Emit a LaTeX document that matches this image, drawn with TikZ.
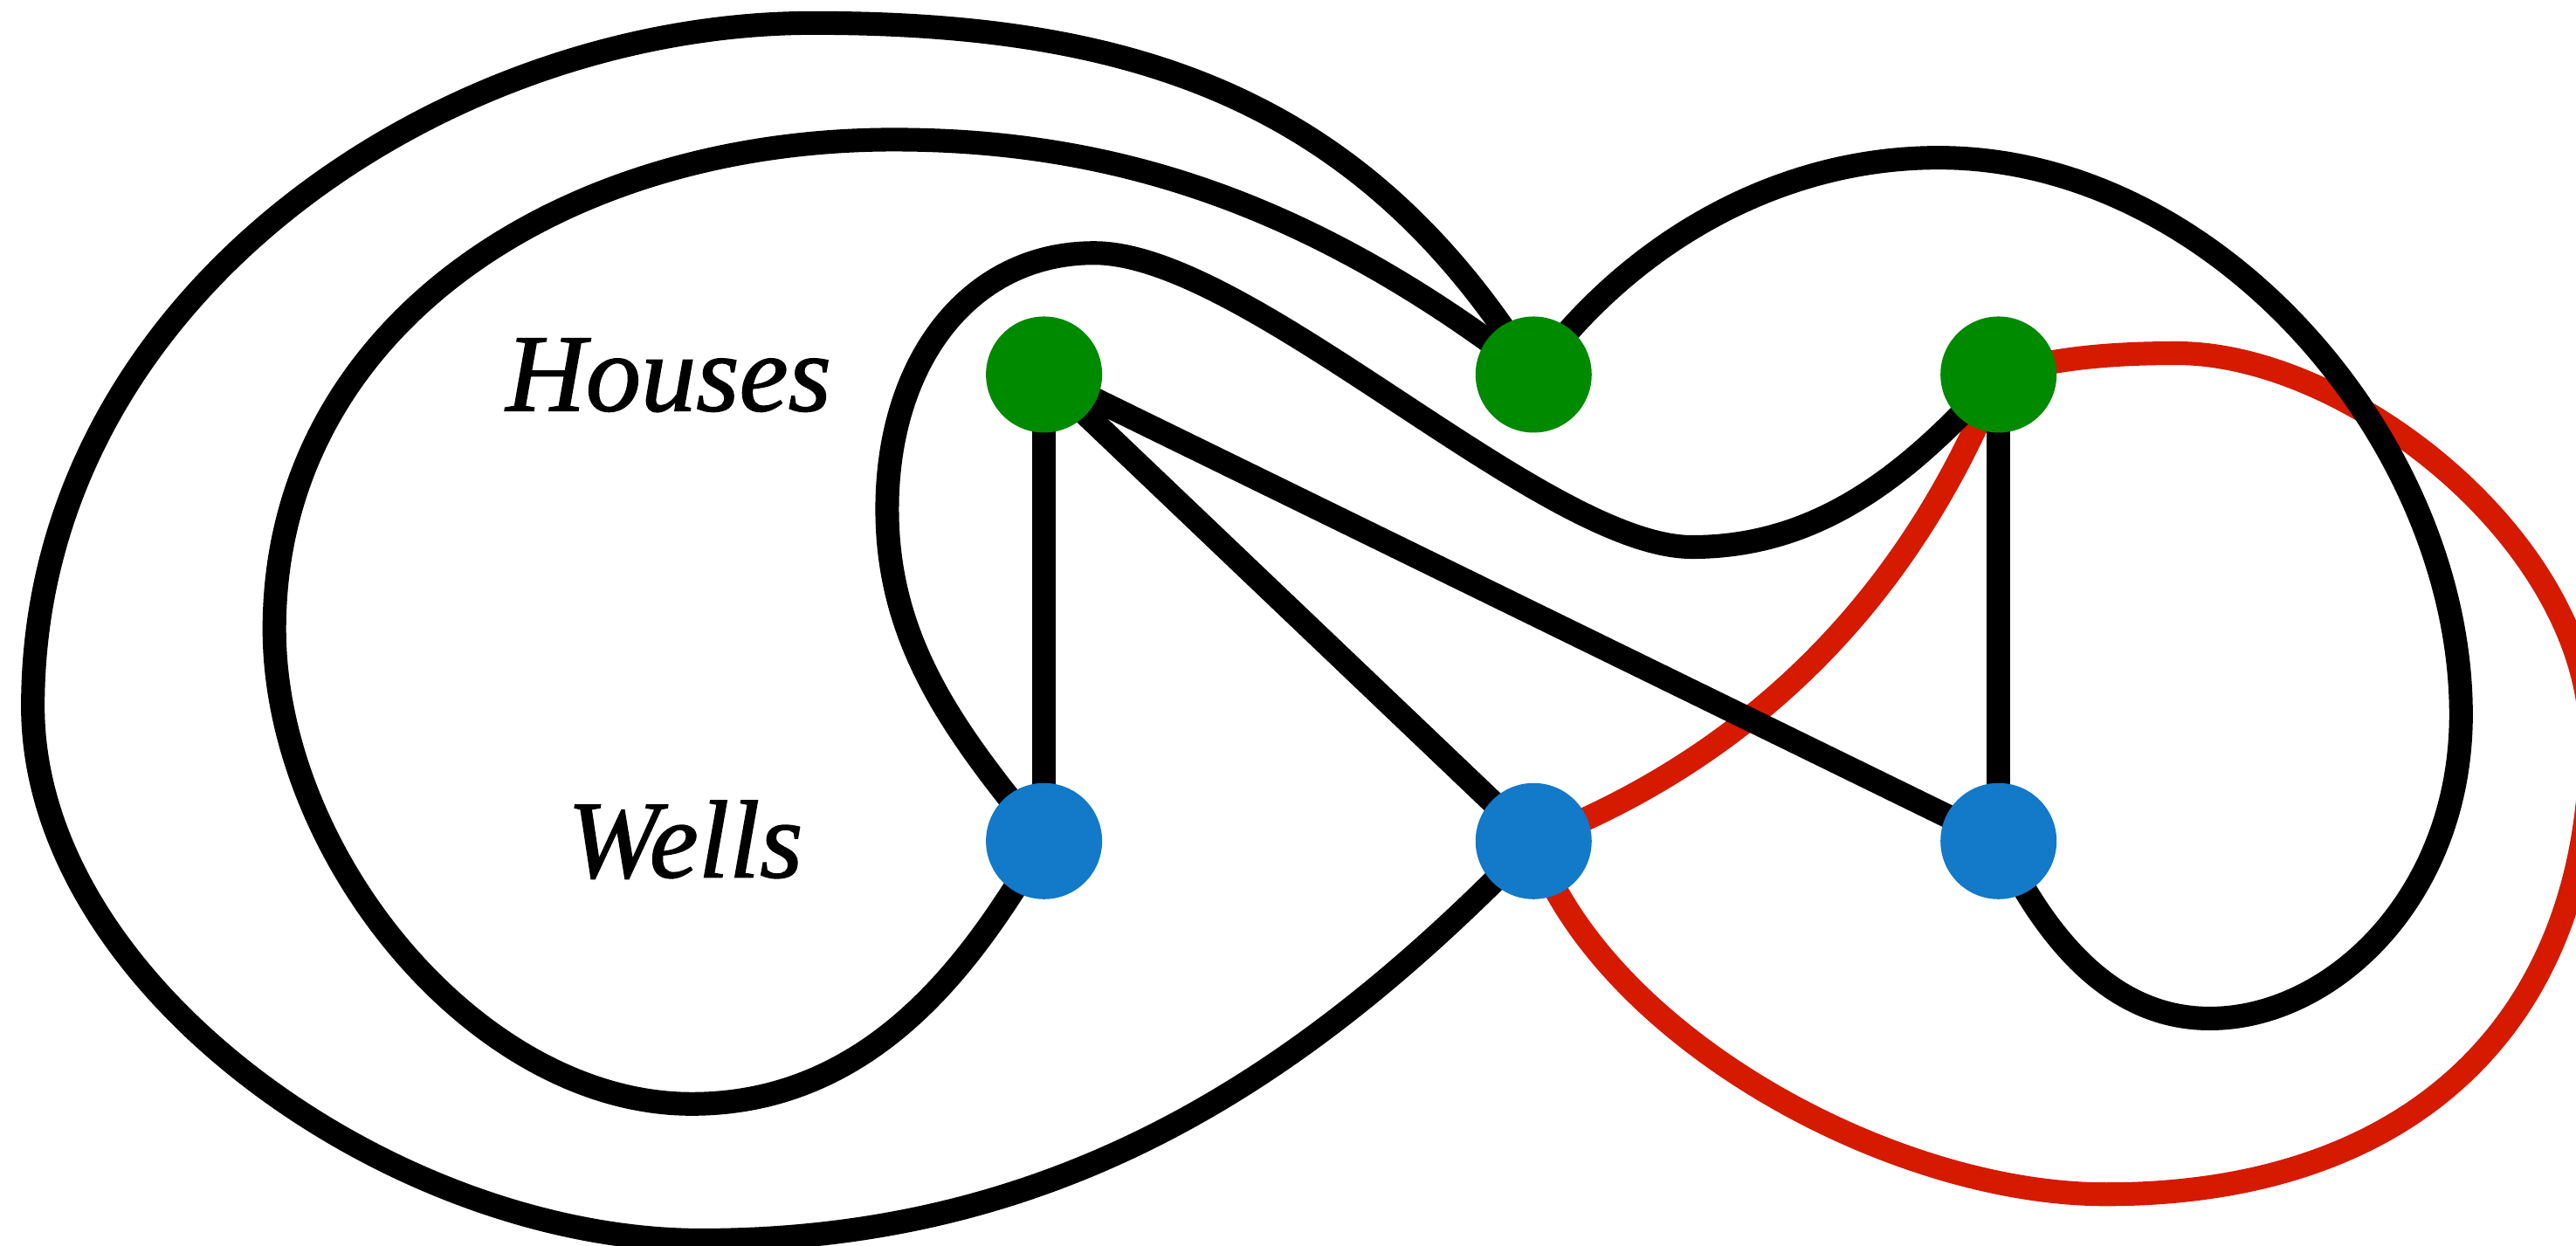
\documentclass[tikz,border=0pt]{standalone}
\usepackage{fontspec}
\setmainfont{Liberation Serif}
\newfontfamily\lblfont[FakeBold=1.2]{Liberation Serif}
\definecolor{hgreen}{RGB}{0,138,0}
\definecolor{wblue}{RGB}{19,121,201}
\definecolor{ered}{RGB}{213,26,0}
\tikzset{
  edge/.style={line width=7.7pt, draw=black},
  redge/.style={line width=7.7pt, draw=ered},
  house/.style={circle, fill=hgreen, minimum size=1.33cm, inner sep=0pt},
  well/.style={circle, fill=wblue, minimum size=1.33cm, inner sep=0pt},
  lbl/.style={font=\lblfont\fontsize{36}{40}\selectfont\itshape, anchor=base, inner sep=0pt}
}
\begin{document}
\begin{tikzpicture}[x=0.018814cm, y=-0.018814cm]
\useasboundingbox (0,0) rectangle (1568,758);
\clip (0,0) rectangle (1568,758);
\coordinate (H1) at (635.5,228);
\coordinate (H2) at (933.5,228);
\coordinate (H3) at (1216.5,228);
\coordinate (W1) at (635.5,512);
\coordinate (W2) at (933.5,512);
\coordinate (W3) at (1216.5,512);

% red edges
\draw[redge] (H3) .. controls (1164,360) and (1070,459) .. (W2);
\draw[redge] (W2) .. controls (975,630) and (1150,727) .. (1282,727)
  .. controls (1470,727) and (1577,620) .. (1577,450)
  .. controls (1577,330) and (1430,215) .. (1325,215)
  .. controls (1285,215) and (1250,218) .. (H3);

% black edges
\draw[edge] (H1) -- (W1);
\draw[edge] (H1) -- (W2);
\draw[edge] (H1) -- (W3);
\draw[edge] (H3) -- (W3);
\draw[edge] (H2) .. controls (830,60) and (690,14) .. (495,14)
  .. controls (270,14) and (20,180) .. (20,430)
  .. controls (20,600) and (240,755) .. (427,755)
  .. controls (650,755) and (800,650) .. (W2);
\draw[edge] (H2) .. controls (800,125) and (680,85) .. (544,85)
  .. controls (340,85) and (167,200) .. (167,383)
  .. controls (167,520) and (290,672) .. (421,672)
  .. controls (540,672) and (600,570) .. (W1);
\draw[edge] (W1) .. controls (580,445) and (540,390) .. (540,310)
  .. controls (540,220) and (590,154) .. (666,154)
  .. controls (760,154) and (940,333) .. (1030,333)
  .. controls (1110,333) and (1165,285) .. (H3);
\draw[edge] (H2) .. controls (990,150) and (1080,96) .. (1180,96)
  .. controls (1350,96) and (1498,270) .. (1498,435)
  .. controls (1498,545) and (1420,620) .. (1345,620)
  .. controls (1280,620) and (1241,562) .. (W3);

% vertices
\node[house] (h1) at (H1) {};
\node[house] (h2) at (H2) {};
\node[house] (h3) at (H3) {};
\node[well] (w1) at (W1) {};
\node[well] (w2) at (W2) {};
\node[well] (w3) at (W3) {};

% labels
\node[lbl] (houses) at (407,250) {Houses};
\node[lbl] (wells) at (417,534) {Wells};
\end{tikzpicture}
\end{document}
